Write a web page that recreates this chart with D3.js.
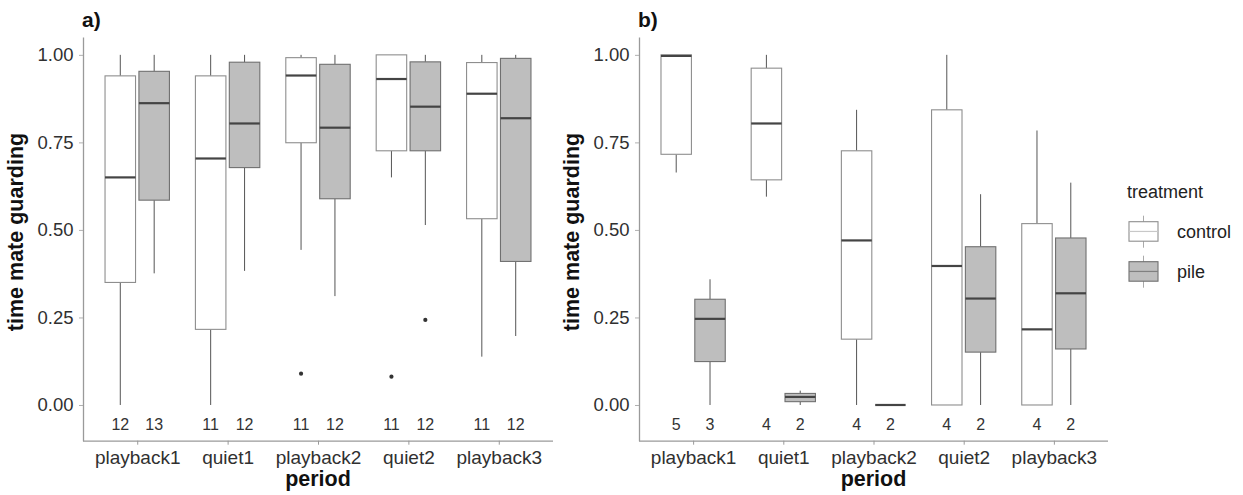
<!DOCTYPE html>
<html>
<head>
<meta charset="utf-8">
<script src="https://cdn.jsdelivr.net/npm/d3@7/dist/d3.min.js"></script>
<style>
  html, body { margin: 0; padding: 0; background: #fff; }
  svg text { font-family: "Liberation Sans", Arial, sans-serif; }
</style>
</head>
<body>
<svg id="chart" width="1243" height="495"></svg>
<script>
// Periods on the x axis and the two treatments
const periods = ["playback1", "quiet1", "playback2", "quiet2", "playback3"];
const treatments = ["control", "pile"];
const yTicks = [0, 0.25, 0.5, 0.75, 1];

// Box statistics per period: [lower whisker, Q1, median, Q3, upper whisker]
// Panel a
const aControl = [[0, 0.35, 0.65, 0.94, 1], [0, 0.216, 0.704, 0.94, 1], [0.443, 0.749, 0.941, 0.992, 1], [0.65, 0.726, 0.931, 1, 1], [0.138, 0.532, 0.889, 0.978, 1]];
const aPile = [[0.376, 0.585, 0.862, 0.953, 1], [0.383, 0.678, 0.804, 0.979, 1], [0.311, 0.589, 0.792, 0.973, 1], [0.514, 0.726, 0.852, 0.98, 1], [0.197, 0.41, 0.819, 0.99, 1]];
const aControlOut = [[], [], [0.0895], [0.081], []];
const aPileOut = [[], [], [], [0.243], []];
const aControlN = [12, 11, 11, 11, 11];
const aPileN = [13, 12, 12, 12, 12];

// Panel b
const bControl = [[0.664, 0.716, 0.997, 1, 1], [0.595, 0.643, 0.804, 0.962, 1], [0, 0.188, 0.47, 0.726, 0.843], [0, 0, 0.397, 0.843, 1], [0, 0, 0.216, 0.518, 0.784]];
const bPile = [[0, 0.124, 0.246, 0.302, 0.359], [0, 0.0095, 0.023, 0.033, 0.041], [0, 0, 0, 0, 0], [0, 0.151, 0.304, 0.452, 0.602], [0, 0.16, 0.319, 0.477, 0.635]];
const bControlOut = [[], [], [], [], []];
const bPileOut = [[], [], [], [], []];
const bControlN = [5, 4, 4, 4, 4];
const bPileN = [3, 2, 2, 2, 2];

const fills = { control: "#ffffff", pile: "#bebebe" };
const outlines = { control: "#8e8e8e", pile: "#707070" };

const svg = d3.select("#chart");

// Shared y scale (value range expanded below 0 to make room for the counts)
const y = d3.scaleLinear().domain([-0.102, 1.051]).range([440.7, 37]);

function drawPanel(opts) {
  const { left, right, label, control, pile, controlOut, pileOut, controlN, pileN } = opts;
  const g = svg.append("g");
  const x = d3.scalePoint().domain(periods).range([left, right]).padding(0.6);
  const step = x.step();
  const dodge = step * 0.1875;
  const bw = step * 0.3375;

  // y axis
  const yAxis = g.append("g")
    .attr("transform", `translate(${left},0)`)
    .call(d3.axisLeft(y).tickValues(yTicks).tickFormat(d3.format(".2f")).tickSize(4).tickSizeOuter(0).tickPadding(5.5));
  yAxis.select(".domain").attr("stroke", "#9a9a9a").attr("stroke-width", 1.3);
  yAxis.selectAll(".tick line").attr("stroke", "#b0b0b0");
  yAxis.selectAll("text").attr("font-size", 18.5).attr("fill", "#303030")
    .style("font-family", "'Liberation Sans', Arial, sans-serif");

  // x axis
  const xAxis = g.append("g")
    .attr("transform", `translate(0,${y.range()[0]})`)
    .call(d3.axisBottom(x).tickSize(4).tickSizeOuter(0).tickPadding(6));
  xAxis.select(".domain").attr("stroke", "#9a9a9a").attr("stroke-width", 1.3)
    .attr("d", `M${left},0.5H${right}`);
  xAxis.selectAll(".tick line").attr("stroke", "#9a9a9a");
  xAxis.selectAll("text").attr("font-size", 19).attr("fill", "#303030")
    .style("font-family", "'Liberation Sans', Arial, sans-serif");

  // Axis titles and panel tag
  g.append("text")
    .attr("x", (left + right) / 2).attr("y", 486)
    .attr("text-anchor", "middle").attr("font-size", 21.5).attr("font-weight", "bold")
    .attr("fill", "#111").text("period");
  g.append("text")
    .attr("transform", `translate(${left - 60},232) rotate(-90)`)
    .attr("text-anchor", "middle").attr("font-size", 21.5).attr("font-weight", "bold")
    .attr("fill", "#111").text("time mate guarding");
  g.append("text")
    .attr("x", left - 1).attr("y", 27)
    .attr("font-size", 21).attr("font-weight", "bold").attr("fill", "#111").text(label);

  const groups = [
    { t: "control", stats: control, out: controlOut, n: controlN, off: -dodge },
    { t: "pile", stats: pile, out: pileOut, n: pileN, off: dodge }
  ];

  groups.forEach(grp => {
    periods.forEach((p, i) => {
      const [lo, q1, med, q3, hi] = grp.stats[i];
      const cx = x(p) + grp.off;
      const bg = g.append("g");
      // whiskers
      bg.append("line").attr("x1", cx).attr("x2", cx).attr("y1", y(q3)).attr("y2", y(hi))
        .attr("stroke", "#555").attr("stroke-width", 1);
      bg.append("line").attr("x1", cx).attr("x2", cx).attr("y1", y(q1)).attr("y2", y(lo))
        .attr("stroke", "#555").attr("stroke-width", 1);
      // box
      bg.append("rect")
        .attr("x", cx - bw / 2).attr("width", bw)
        .attr("y", y(q3)).attr("height", Math.max(0, y(q1) - y(q3)))
        .attr("fill", fills[grp.t]).attr("stroke", outlines[grp.t]).attr("stroke-width", 1.1);
      // median
      bg.append("line").attr("x1", cx - bw / 2).attr("x2", cx + bw / 2)
        .attr("y1", y(med)).attr("y2", y(med))
        .attr("stroke", "#444").attr("stroke-width", 2.2);
      // outliers
      grp.out[i].forEach(v => {
        bg.append("circle").attr("cx", cx).attr("cy", y(v)).attr("r", 2.1).attr("fill", "#333");
      });
      // sample size
      g.append("text").attr("x", cx).attr("y", 429.5)
        .attr("text-anchor", "middle").attr("font-size", 16).attr("fill", "#333")
        .text(grp.n[i]);
    });
  });
}

drawPanel({ left: 83, right: 553, label: "a)", control: aControl, pile: aPile,
  controlOut: aControlOut, pileOut: aPileOut, controlN: aControlN, pileN: aPileN });
drawPanel({ left: 639, right: 1108, label: "b)", control: bControl, pile: bPile,
  controlOut: bControlOut, pileOut: bPileOut, controlN: bControlN, pileN: bPileN });

// Legend
const legend = svg.append("g").attr("transform", "translate(1127,0)");
legend.append("text").attr("x", 0).attr("y", 198).attr("font-size", 18).attr("fill", "#222").text("treatment");
treatments.forEach((t, i) => {
  const top = 221.7 + i * 40;
  const k = legend.append("g");
  k.append("line").attr("x1", 16.5).attr("x2", 16.5).attr("y1", top - 6).attr("y2", top + 26)
    .attr("stroke", "#aaa").attr("stroke-width", 1);
  k.append("rect").attr("x", 2).attr("y", top).attr("width", 29).attr("height", 19.5)
    .attr("fill", fills[t]).attr("stroke", outlines[t]).attr("stroke-width", 1.1);
  k.append("line").attr("x1", 2).attr("x2", 31).attr("y1", top + 9.75).attr("y2", top + 9.75)
    .attr("stroke", t === "control" ? "#c8c8c8" : "#808080").attr("stroke-width", 1.2);
  legend.append("text").attr("x", 50).attr("y", top + 16.5).attr("font-size", 18).attr("fill", "#222").text(t);
});
</script>
</body>
</html>
